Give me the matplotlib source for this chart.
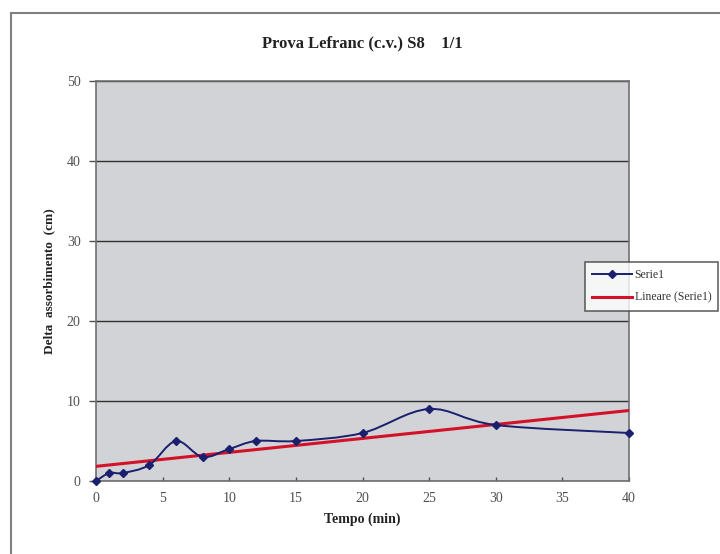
import numpy as np
import matplotlib
matplotlib.use('Agg')
import matplotlib.pyplot as plt
from matplotlib.path import Path
from matplotlib.patches import PathPatch, Rectangle
from matplotlib.lines import Line2D

# data
tempo = [0, 1, 2, 4, 6, 8, 10, 12, 15, 20, 25, 30, 40]
delta = [0, 1, 1, 2, 5, 3, 4, 5, 5, 6, 9, 7, 6]
xticks = [0, 5, 10, 15, 20, 25, 30, 35, 40]
yticks = [0, 10, 20, 30, 40, 50]

title = 'Prova Lefranc (c.v.) S8    1/1'
xlabel = 'Tempo (min)'
ylabel = 'Delta  assorbimento  (cm)'
serie_name = 'Serie1'
trend_name = 'Lineare (Serie1)'

navy = '#1a1f6e'
red = '#d3122a'
plt.rcParams['font.family'] = ['Liberation Serif', 'DejaVu Serif']


def smooth_path(x, y):
    # excel-like smoothed line: bezier segments with catmull-rom control points
    p = np.column_stack([x, y]).astype(float)
    pts = np.vstack([p[0], p, p[-1]])
    verts = [p[0]]
    codes = [Path.MOVETO]
    for i in range(1, len(pts) - 2):
        c1 = pts[i] + (pts[i + 1] - pts[i - 1]) / 6.0
        c2 = pts[i + 1] - (pts[i + 2] - pts[i]) / 6.0
        verts += [c1, c2, pts[i + 1]]
        codes += [Path.CURVE4] * 3
    return Path(verts, codes)


fig = plt.figure(figsize=(7.2, 5.54), dpi=100)
fig.patch.set_facecolor('white')

# chart area border
fig.patches.append(Rectangle((11 / 720, -0.05), 1.0, 1 - 13 / 554 + 0.05,
                             transform=fig.transFigure, fill=False,
                             edgecolor='#808080', linewidth=1.5))

ax = fig.add_axes([96 / 720, 1 - 481 / 554, 533 / 720, 400 / 554])
ax.set_facecolor('#d2d3d6')
for s in ax.spines.values():
    s.set_color('#707070')
    s.set_linewidth(1.2)

ax.set_xlim(0, 40)
ax.set_ylim(0, 50)
ax.set_xticks(xticks)
ax.set_yticks(yticks)
ax.tick_params(axis='x', length=3, width=1, direction='in', pad=8,
               labelsize=10, colors='#505050')
ax.tick_params(axis='y', length=5, width=1, direction='out', pad=6,
               labelsize=10, colors='#505050')
ax.grid(axis='y', color='#303030', linewidth=1.0)
ax.set_axisbelow(True)

# trend line
k, q = np.polyfit(tempo, delta, 1)
tx = np.array([min(tempo), max(tempo)])
ax.plot(tx, k * tx + q, color=red, linewidth=2.2, zorder=3)

# smoothed series
ax.add_patch(PathPatch(smooth_path(tempo, delta), fill=False,
                       edgecolor=navy, linewidth=1.4, zorder=4))
ax.plot(tempo, delta, linestyle='none', marker='D', markersize=4.5,
        color=navy, zorder=5, clip_on=False)

ax.set_title(title, fontsize=12, fontweight='bold', pad=24, color='#222222')
ax.set_xlabel(xlabel, fontsize=10, fontweight='bold', labelpad=5,
              color='#222222')
ax.set_ylabel(ylabel, fontsize=9.5, fontweight='bold', labelpad=8,
              color='#222222')

handles = [Line2D([], [], color=navy, marker='D', markersize=4, linewidth=1.4),
           Line2D([], [], color=red, linewidth=2.2)]
leg = fig.legend(handles, [serie_name, trend_name], loc='upper left',
                 bbox_to_anchor=(585 / 720, 1 - 262 / 554), fontsize=8.5,
                 frameon=True, fancybox=False, handlelength=3.4,
                 borderpad=0.6, labelspacing=0.9, handletextpad=0.2,
                 borderaxespad=0)
leg.get_frame().set_edgecolor('#404040')
leg.get_frame().set_linewidth(1.2)
for t in leg.get_texts():
    t.set_color('#333333')

fig.savefig('out.png', dpi=100)
